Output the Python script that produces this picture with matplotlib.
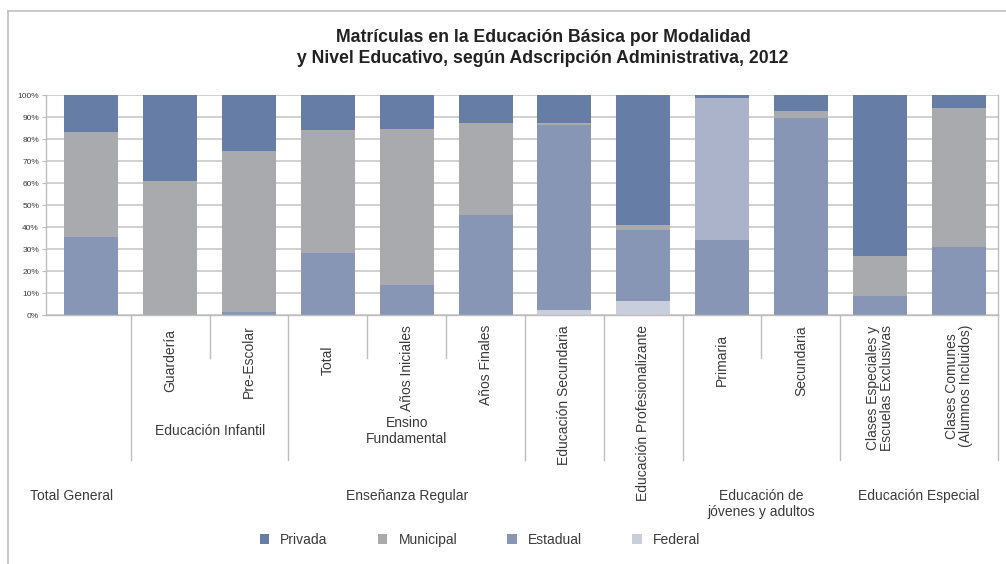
import matplotlib
matplotlib.use('Agg')
import matplotlib.pyplot as plt
from matplotlib.transforms import blended_transform_factory
from matplotlib.lines import Line2D
import numpy as np

# datos (porcentajes)
categorias = ['', 'Guardería', 'Pre-Escolar', 'Total', 'Años Iniciales', 'Años Finales',
              'Educación Secundaria', 'Educación Profesionalizante', 'Primaria', 'Secundaria',
              'Clases Especiales y\nEscuelas Exclusivas', 'Clases Comunes\n(Alumnos Incluidos)']
federal   = [0.0, 0.0, 0.0, 0.0, 0.0, 0.0, 2.3, 6.4, 0.0, 0.0, 0.0, 0.0]
estadual  = [35.6, 0.0, 1.5, 28.3, 13.6, 45.5, 84.1, 32.2, 34.1, 89.7, 8.6, 31.1]
municipal = [47.7, 61.0, 73.2, 55.8, 70.9, 41.8, 0.9, 2.3, 64.7, 3.0, 18.4, 63.1]
privada   = [100 - f - e - m for f, e, m in zip(federal, estadual, municipal)]

nivel2 = [('Educación Infantil', 1, 2), ('Ensino\nFundamental', 3, 5)]
nivel3 = [('Total General', 0, 0), ('Enseñanza Regular', 1, 7),
          ('Educación de\njóvenes y adultos', 8, 9), ('Educación Especial', 10, 11)]

titulo = 'Matrículas en la Educación Básica por Modalidad\ny Nivel Educativo, según Adscripción Administrativa, 2012'

colores = {'Privada': '#667ea5', 'Municipal': '#a9aaad', 'Estadual': '#8796b5', 'Federal': '#c9cedc'}
gris_txt = '#3a3a3a'
gris_lin = '#bdbdbd'

plt.rcParams['font.family'] = ['Liberation Sans', 'DejaVu Sans']

W, H = 1006, 564
fig = plt.figure(figsize=(W / 100, H / 100), dpi=100)

def fx(px):
    return px / W

def fy(py):
    return 1 - py / H

ax = fig.add_axes([fx(46), fy(315), fx(998) - fx(46), fy(95) - fy(315)])
x = np.arange(len(categorias))

# barras apiladas: Federal abajo, Privada arriba
series = [('Federal', federal), ('Estadual', estadual), ('Municipal', municipal), ('Privada', privada)]
base = np.zeros(len(x))
handles = {}
for nombre, vals in series:
    vals = np.array(vals)
    b = ax.bar(x, vals, 0.684, bottom=base, color=colores[nombre], label=nombre, zorder=2, linewidth=0)
    handles[nombre] = b
    base += vals
# en el original Primaria tiene otro tono en el segmento municipal
handles['Municipal'][8].set_color('#abb3cb')

ax.set_ylim(0, 100)
ax.set_xlim(-0.5 - 6 / 78.9, 11.5)
ax.set_yticks(np.arange(0, 101, 10))
ax.set_yticklabels([f'{v}%' for v in range(0, 101, 10)], fontsize=6, color=gris_txt)
ax.set_xticks([])
ax.tick_params(axis='y', length=3, width=0.8, color=gris_lin, pad=2)
ax.yaxis.grid(True, color='#c4c4c4', linewidth=1.1)
ax.set_axisbelow(True)
for s in ['top', 'right']:
    ax.spines[s].set_visible(False)
for s in ['left', 'bottom']:
    ax.spines[s].set_color(gris_lin)
    ax.spines[s].set_linewidth(1.0)

# separadores del eje de categorias
trans = blended_transform_factory(ax.transData, fig.transFigure)
cortos = [1.5, 3.5, 4.5, 8.5]
largos = [0.5, 2.5, 5.5, 6.5, 7.5, 9.5, 11.5]
for b in cortos:
    ax.plot([b, b], [fy(315), fy(358)], transform=trans, clip_on=False, color=gris_lin, lw=1.0)
for b in largos:
    ax.plot([b, b], [fy(315), fy(460)], transform=trans, clip_on=False, color=gris_lin, lw=1.0)
ax.plot([11.5, 11.5], [fy(95), fy(315)], transform=trans, clip_on=False, color=gris_lin, lw=1.0)

# etiquetas verticales
renderer = fig.canvas.get_renderer()
for i, lab in enumerate(categorias):
    if not lab:
        continue
    t = ax.text(i, fy(360), lab, transform=trans, rotation=90, ha='center', va='center',
                multialignment='center', fontsize=10, color=gris_txt, linespacing=1.0)
    bb = t.get_window_extent(renderer)
    if H - bb.y1 < 325:
        t.set_va('top')
        t.set_y(fy(325))

for lab, a, b in nivel2:
    ax.text((a + b) / 2, fy(431), lab, transform=trans, ha='center', va='center',
            fontsize=10, color=gris_txt, linespacing=1.15)
for lab, a, b in nivel3:
    xc = (a + b) / 2 if a != b else a - 0.25
    ax.text(xc, fy(489), lab, transform=trans, ha='center', va='top',
            fontsize=10, color=gris_txt, linespacing=1.15)

fig.text(fx(543), fy(48), titulo, ha='center', va='center', fontsize=12.7, fontweight='bold',
         family=['Liberation Sans Narrow', 'Liberation Sans'], color='#222222', linespacing=1.38)

orden = ['Privada', 'Municipal', 'Estadual', 'Federal']
fig.legend([handles[n] for n in orden], orden, loc='center', ncol=4,
           bbox_to_anchor=(fx(480), fy(540)), bbox_transform=fig.transFigure,
           frameon=False, fontsize=10, handlelength=0.7, handleheight=0.7,
           handletextpad=0.8, columnspacing=3.6, labelcolor=gris_txt)

# marco exterior
fig.add_artist(Line2D([fx(7.5), fx(7.5)], [fy(11), 0], color='#c0c0c0', lw=1.2))
fig.add_artist(Line2D([fx(7.5), 1], [fy(11), fy(11)], color='#c0c0c0', lw=1.2))

fig.savefig('out.png', dpi=100)
